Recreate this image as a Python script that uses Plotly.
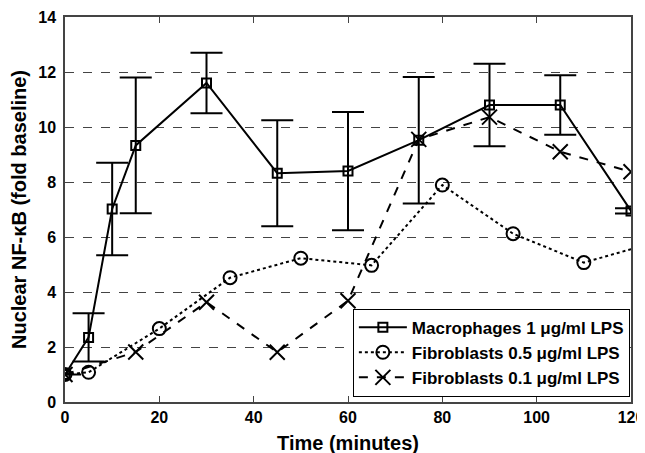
import plotly.graph_objects as go

mac_t = [0, 5, 10, 15, 30, 45, 60, 75, 90, 105, 120]
mac_v = [1.0, 2.35, 7.02, 9.33, 11.6, 8.32, 8.4, 9.52, 10.8, 10.8, 6.95]
mac_err = [0.0, 0.88, 1.68, 2.47, 1.1, 1.93, 2.15, 2.3, 1.5, 1.08, 0.1]

fb05_t = [0, 5, 20, 35, 50, 65, 80, 95, 110, 125]
fb05_v = [1.0, 1.08, 2.67, 4.52, 5.23, 4.97, 7.89, 6.12, 5.07, 5.8]

fb01_t = [0, 15, 30, 45, 60, 75, 90, 105, 120]
fb01_v = [1.0, 1.82, 3.63, 1.81, 3.68, 9.55, 10.36, 9.1, 8.37]

x_ticks = [0, 20, 40, 60, 80, 100, 120]
y_ticks = [0, 2, 4, 6, 8, 10, 12, 14]

FONT = "Liberation Sans"

fig = go.Figure()
fig.add_trace(go.Scatter(
    x=mac_t, y=mac_v, mode="lines+markers", name="<b>Macrophages 1 \u03bcg/ml LPS</b>",
    line=dict(color="black", width=2, dash="solid"),
    marker=dict(symbol="square-open", size=9, color="black", line=dict(width=2)),
    error_y=dict(type="data", array=mac_err, visible=True, color="black", thickness=2, width=16),
    cliponaxis=True,
))
fig.add_trace(go.Scatter(
    x=fb05_t, y=fb05_v, mode="lines+markers", name="<b>Fibroblasts 0.5 \u03bcg/ml LPS</b>",
    line=dict(color="black", width=2, dash="dot"),
    marker=dict(symbol="circle-open", size=13, color="black", line=dict(width=2)),
    cliponaxis=True,
))
fig.add_trace(go.Scatter(
    x=fb01_t, y=fb01_v, mode="lines+markers", name="<b>Fibroblasts 0.1 \u03bcg/ml LPS</b>",
    line=dict(color="black", width=2, dash="dash"),
    marker=dict(symbol="x-thin-open", size=15, color="black", line=dict(width=2, color="black")),
    cliponaxis=True,
))

axis_common = dict(
    showline=True, linecolor="#444", linewidth=1.5, mirror="ticks",
    ticks="inside", ticklen=6, tickcolor="#444", tickwidth=1,
    tickfont=dict(family=FONT, size=16, color="black"),
    zeroline=False, automargin=False,
)

fig.update_xaxes(
    range=[0, 120], tickvals=x_ticks, ticktext=[f"<b>{v}</b>" for v in x_ticks],
    showgrid=False, ticklabelstandoff=0,
    title=dict(text="<b>Time (minutes)</b>", font=dict(family=FONT, size=20, color="black"), standoff=11),
    **axis_common,
)
fig.update_yaxes(
    range=[0, 14], tickvals=y_ticks, ticktext=[f"<b>{v}</b>" for v in y_ticks],
    showgrid=True, gridcolor="#444", griddash="dash", gridwidth=1,
    ticklabelstandoff=4,
    title=dict(text="<b>Nuclear NF-\u03baB (fold baseline)</b>", font=dict(family=FONT, size=20, color="black"), standoff=9),
    **axis_common,
)

fig.update_layout(
    width=645, height=453,
    margin=dict(l=57, r=22, t=9, b=59),
    paper_bgcolor="white", plot_bgcolor="white",
    showlegend=True,
    legend=dict(
        x=0.998, y=0.014, xanchor="right", yanchor="bottom",
        bgcolor="white", bordercolor="black", borderwidth=1,
        font=dict(family=FONT, size=17, color="black"),
        tracegroupgap=0, itemwidth=48,
    ),
)

fig.write_html("out.html")
